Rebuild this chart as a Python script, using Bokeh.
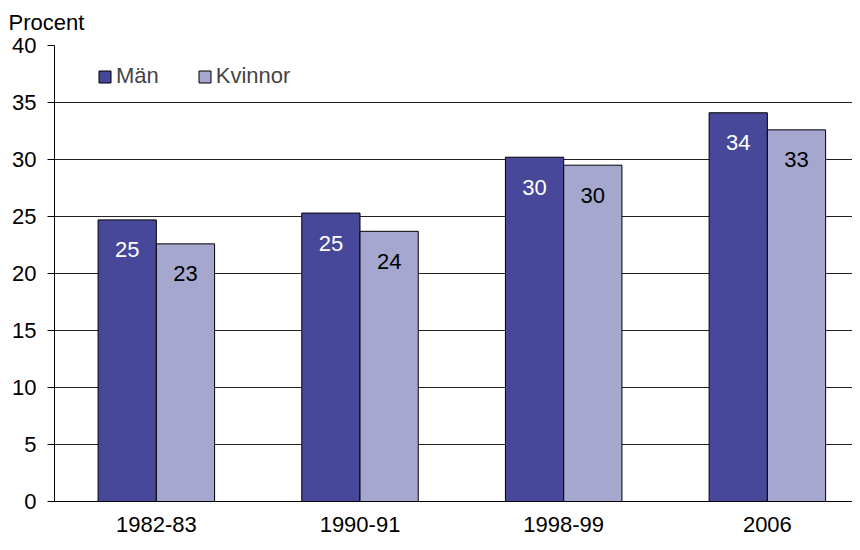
from bokeh.plotting import figure
from bokeh.models import Range1d, FixedTicker, Legend, LegendItem, Title, ColumnDataSource
from bokeh.core.properties import value
from bokeh.embed import file_html
from bokeh.resources import INLINE

categories = ["1982-83", "1990-91", "1998-99", "2006"]
man = [24.7, 25.3, 30.2, 34.1]
kvinnor = [22.6, 23.7, 29.5, 32.6]
man_labels = ["25", "25", "30", "34"]
kvinnor_labels = ["23", "24", "30", "33"]
y_ticks = [0, 5, 10, 15, 20, 25, 30, 35, 40]

FONT = "Liberation Sans"
FS = "22px"
MAN_COLOR = "#47489A"
KV_COLOR = "#A6A7CE"
BAR_W = 0.286

centers = [i + 0.5 for i in range(len(categories))]
src = ColumnDataSource(dict(
    xm=[c - BAR_W / 2 for c in centers],
    xk=[c + BAR_W / 2 for c in centers],
    man=man, kvinnor=kvinnor,
    ml=man_labels, kl=kvinnor_labels,
))

p = figure(width=852, height=542, output_backend="svg", toolbar_location=None,
           x_range=Range1d(0, 3.918), y_range=Range1d(0, 40),
           min_border_left=54, min_border_right=0, min_border_top=44, min_border_bottom=41)
p.outline_line_color = None
p.background_fill_color = "white"

r1 = p.vbar(x="xm", top="man", width=BAR_W, source=src, fill_color=MAN_COLOR,
            line_color="#000000", line_width=1)
r2 = p.vbar(x="xk", top="kvinnor", width=BAR_W, source=src, fill_color=KV_COLOR,
            line_color="#000000", line_width=1)

p.text(x="xm", y="man", text="ml", source=src, y_offset=30, text_align="center",
       text_baseline="middle", text_color="white", text_font=value(FONT), text_font_size=FS)
p.text(x="xk", y="kvinnor", text="kl", source=src, y_offset=30, text_align="center",
       text_baseline="middle", text_color="black", text_font=value(FONT), text_font_size=FS)

# axes
p.yaxis.ticker = FixedTicker(ticks=y_ticks)
p.yaxis.major_tick_out = 7
p.yaxis.major_tick_in = 0
p.yaxis.minor_tick_line_color = None
p.yaxis.major_label_standoff = 11
p.yaxis.axis_line_color = "black"
p.yaxis.major_tick_line_color = "black"

p.xaxis.ticker = FixedTicker(ticks=centers)
p.xaxis.major_label_overrides = {c: lab for c, lab in zip(centers, categories)}
p.xaxis.major_tick_out = 0
p.xaxis.major_tick_in = 0
p.xaxis.minor_tick_line_color = None
p.xaxis.major_tick_line_color = None
p.xaxis.major_label_standoff = 15
p.xaxis.axis_line_color = "black"

for ax in (p.xaxis, p.yaxis):
    ax.major_label_text_font = FONT
    ax.major_label_text_font_size = FS
    ax.major_label_text_color = "black"

p.xgrid.grid_line_color = None
p.ygrid.grid_line_color = "#222222"
p.ygrid.grid_line_width = 1

legend = Legend(items=[LegendItem(label="Män", renderers=[r1]),
                       LegendItem(label="Kvinnor", renderers=[r2])],
                orientation="horizontal", location=(43, 412),
                glyph_width=15, glyph_height=15, label_standoff=4, spacing=38,
                padding=0, margin=0, border_line_color=None, background_fill_alpha=0,
                label_text_font=FONT, label_text_font_size=FS)
p.add_layout(legend, "center")

p.add_layout(Title(text="Procent", align="left", offset=-46, standoff=18,
                   vertical_align="top",
                   text_font=FONT, text_font_size=FS, text_font_style="normal",
                   text_color="black"), "above")

open("out.html", "w").write(file_html(p, INLINE))
